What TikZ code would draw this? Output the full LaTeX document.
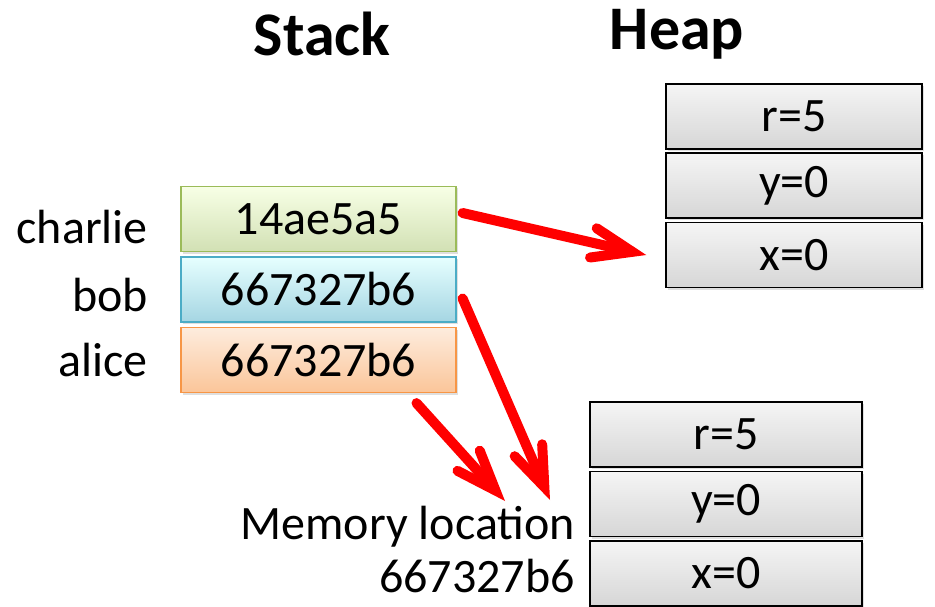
\documentclass[tikz,border=0pt]{standalone}
\usepackage{fontspec}
\setmainfont{Carlito}
\usetikzlibrary{arrows.meta,shadows}

\definecolor{cellgreen}{HTML}{9BBB59}
\definecolor{cellblue}{HTML}{4BACC6}
\definecolor{cellorange}{HTML}{F79646}

\tikzset{
  txt/.style={font=\fontsize{48}{53}\selectfont, inner sep=0pt},
  title/.style={font=\fontsize{62}{68}\selectfont\bfseries, inner sep=0pt},
  slot/.style={txt, minimum width=275pt, minimum height=65pt, line width=1.2pt,
    drop shadow={shadow xshift=2pt, shadow yshift=-2pt, opacity=.25}},
  field/.style={txt, draw=black, line width=1.5pt, minimum width=256pt, minimum height=65pt,
    top color=gray!8, bottom color=gray!32,
    drop shadow={shadow xshift=2pt, shadow yshift=-2pt, opacity=.25}},
  ptr/.style={red, line width=10pt, line cap=round, line join=round,
    -{Straight Barb[length=40pt, width=30pt, line cap=round]}},
}

\begin{document}
\begin{tikzpicture}[x=1pt, y=-1pt]
  \useasboundingbox (0,0) rectangle (935,607);

  % titles
  \node[title] (stack) at (322,34) {Stack};
  \node[title] (heap)  at (677,34) {Heap};

  % stack slots
  \node[slot, draw=cellgreen, top color=green!8!lime!10, bottom color=cellgreen!45] (charlie) at (318.5,219) {14ae5a5};
  \node[slot, draw=cellblue, top color=cyan!10, bottom color=cellblue!50] (bob) at (318.5,289.5) {667327b6};
  \node[slot, draw=cellorange, top color=cellorange!18, bottom color=cellorange!55] (alice) at (318.5,360) {667327b6};

  \node[txt, anchor=east] (lcharlie) at (148,227) {charlie};
  \node[txt, anchor=east] (lbob)     at (148,295) {bob};
  \node[txt, anchor=east] (lalice)   at (148,360) {alice};

  % heap objects
  \node[field] (hr) at (794,116.5) {r=5};
  \node[field] (hy) at (794,185.5) {y=0};
  \node[field] (hx) at (794,255)   {x=0};

  \node[field, minimum width=272pt] (mr) at (726,434.5) {r=5};
  \node[field, minimum width=272pt] (my) at (726,504)   {y=0};
  \node[field, minimum width=272pt] (mx) at (726,573.5) {x=0};

  \node[txt, anchor=east, align=right] (mem) at (575,550) {Memory location\\667327b6};

  % pointers
  \coordinate (mtipa) at (505,501);
  \coordinate (mtipb) at (550,500);
  \draw[ptr] ([xshift=6pt,yshift=6pt]charlie.east) -- ([xshift=-19pt]hx.west);
  \draw[ptr] ([xshift=6pt,yshift=-9pt]bob.east) -- (mtipb);
  \draw[ptr] ([xshift=98pt,yshift=-10pt]alice.south) -- (mtipa);
\end{tikzpicture}
\end{document}
